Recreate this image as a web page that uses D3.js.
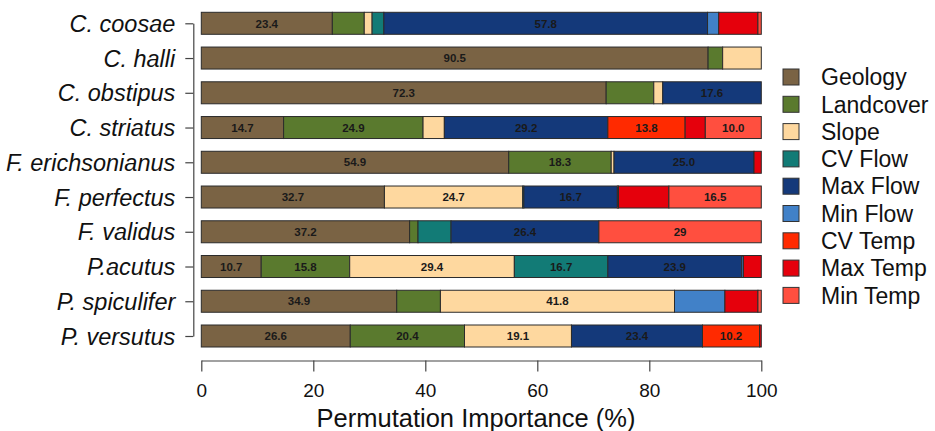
<!DOCTYPE html>
<html>
<head>
<meta charset="utf-8">
<script src="https://cdn.jsdelivr.net/npm/d3@7"></script>
<style>
  html, body { margin: 0; padding: 0; background: #fff; }
  svg { display: block; font-family: "Liberation Sans", Arial, sans-serif; }
</style>
</head>
<body>
<svg id="chart" width="935" height="431"></svg>
<script>
const species = ["C. coosae", "C. halli", "C. obstipus", "C. striatus", "F. erichsonianus",
                 "F. perfectus", "F. validus", "P.acutus", "P. spiculifer", "P. versutus"];
const factors = ["Geology", "Landcover", "Slope", "CV Flow", "Max Flow", "Min Flow", "CV Temp", "Max Temp", "Min Temp"];
const colors  = ["#7a6344", "#5a7a2e", "#fed89f", "#127b76", "#14397a", "#4181c8", "#ff2a00", "#e5000c", "#ff4f3f"];

// series values (percent), one entry per species in the order above
const geology   = [23.4, 90.5, 72.3, 14.7, 54.9, 32.7, 37.2, 10.7, 34.9, 26.6];
const landcover = [ 5.7,  2.6,  8.5, 24.9, 18.3,  0.0,  1.5, 15.8,  7.8, 20.4];
const slope     = [ 1.4,  6.9,  1.6,  3.8,  0.5, 24.7,  0.0, 29.4, 41.8, 19.1];
const cvFlow    = [ 2.1,  0.0,  0.0,  0.0,  0.0,  0.2,  5.9, 16.7,  0.0,  0.0];
const maxFlow   = [57.8,  0.0, 17.6, 29.2, 25.0, 16.7, 26.4, 23.9,  0.0, 23.4];
const minFlow   = [ 2.0,  0.0,  0.0,  0.0,  0.0,  0.0,  0.0,  0.3,  9.0,  0.0];
const cvTemp    = [ 0.0,  0.0,  0.0, 13.8,  0.0,  0.2,  0.0,  0.0,  0.0, 10.2];
const maxTemp   = [ 7.0,  0.0,  0.0,  3.6,  1.3,  9.0,  0.0,  3.2,  5.9,  0.3];
const minTemp   = [ 0.6,  0.0,  0.0, 10.0,  0.0, 16.5, 29.0,  0.0,  0.6,  0.0];

const xTicks = [0, 20, 40, 60, 80, 100];
const labelThreshold = 10;
const integerLabels = [["F. validus", "Min Temp"]];

const series = [geology, landcover, slope, cvFlow, maxFlow, minFlow, cvTemp, maxTemp, minTemp];

const rows = species.map((s, i) => {
  const r = { species: s };
  factors.forEach((f, j) => r[f] = series[j][i]);
  return r;
});

const stacked = d3.stack().keys(factors)(rows);

const svg = d3.select("#chart");
const x = d3.scaleLinear().domain([0, 100]).range([201.3, 761.3]);
const y = d3.scalePoint().domain(species).range([23.3, 336]);
const barH = 22;
const color = d3.scaleOrdinal().domain(factors).range(colors);

// bars
const layers = svg.append("g").selectAll("g").data(stacked).join("g")
  .attr("fill", d => color(d.key));
layers.selectAll("rect")
  .data(d => d.map(p => ({ key: d.key, p })).filter(o => o.p[1] - o.p[0] > 0))
  .join("rect")
  .attr("x", o => x(o.p[0]))
  .attr("y", o => y(o.p.data.species) - barH / 2)
  .attr("width", o => x(o.p[1]) - x(o.p[0]))
  .attr("height", barH)
  .attr("stroke", "#2b2b2b")
  .attr("stroke-width", 1);

// bar labels
const labelData = [];
stacked.forEach(layer => layer.forEach(p => {
  const val = p.data[layer.key];
  if (val >= labelThreshold) {
    const isInt = integerLabels.some(([s, f]) => s === p.data.species && f === layer.key);
    labelData.push({ cx: x((p[0] + p[1]) / 2), cy: y(p.data.species),
                     text: isInt ? d3.format("d")(val) : d3.format(".1f")(val) });
  }
}));
svg.append("g").selectAll("text").data(labelData).join("text")
  .attr("x", d => d.cx)
  .attr("y", d => d.cy + 4.2)
  .attr("text-anchor", "middle")
  .attr("font-size", "11.5px")
  .attr("font-weight", "bold")
  .attr("fill", "#1a1a1a")
  .text(d => d.text);

// y axis
const yAxis = svg.append("g")
  .attr("transform", "translate(193.3,0)")
  .call(d3.axisLeft(y).tickSize(8).tickSizeOuter(0).tickPadding(10));
yAxis.select(".domain").attr("stroke", "#444").attr("stroke-width", 1.2);
yAxis.selectAll(".tick line").attr("stroke", "#444").attr("stroke-width", 1.2);
yAxis.selectAll(".tick text")
  .attr("font-size", "23.5px")
  .attr("font-style", "italic")
  .attr("font-family", "'Liberation Sans', Arial, sans-serif")
  .attr("fill", "#111")
  .attr("dy", "0.34em");

// x axis
const xAxis = svg.append("g")
  .attr("transform", "translate(0,360.5)")
  .call(d3.axisBottom(x).tickValues(xTicks).tickSize(11).tickSizeOuter(0).tickPadding(12));
xAxis.select(".domain").attr("stroke", "#444").attr("stroke-width", 1.2);
xAxis.selectAll(".tick line").attr("stroke", "#444").attr("stroke-width", 1.2);
xAxis.selectAll(".tick text")
  .attr("font-size", "19px")
  .attr("font-family", "'Liberation Sans', Arial, sans-serif")
  .attr("fill", "#111");

svg.append("text")
  .attr("x", 476)
  .attr("y", 427)
  .attr("text-anchor", "middle")
  .attr("font-size", "25.5px")
  .attr("fill", "#111")
  .text("Permutation Importance (%)");

// legend
const legend = svg.append("g").selectAll("g").data(factors).join("g")
  .attr("transform", (d, i) => `translate(783,${77 + i * 27.3})`);
legend.append("rect")
  .attr("x", 0).attr("y", -8).attr("width", 16).attr("height", 16)
  .attr("fill", d => color(d))
  .attr("stroke", "#333").attr("stroke-width", 1);
legend.append("text")
  .attr("x", 38).attr("y", 0).attr("dy", "0.36em")
  .attr("font-size", "23px")
  .attr("fill", "#111")
  .text(d => d);
</script>
</body>
</html>
